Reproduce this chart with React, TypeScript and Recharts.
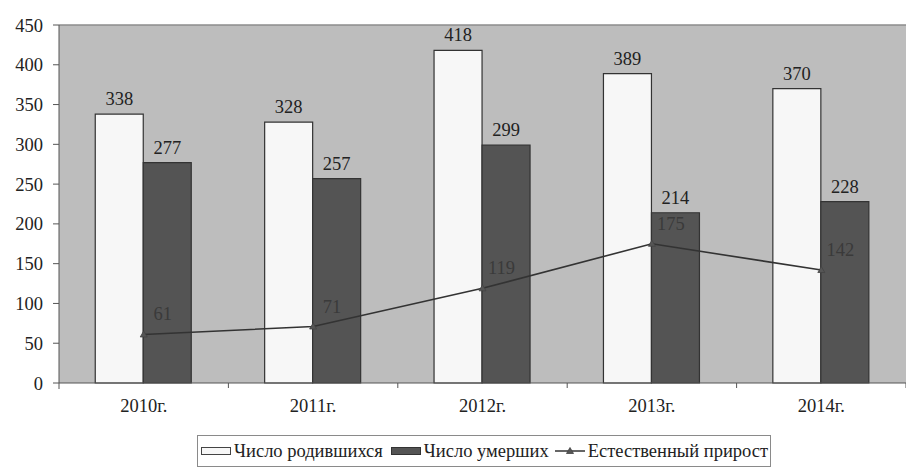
import React from 'react';
import { ComposedChart, Bar, Line, XAxis, YAxis, CartesianGrid, LabelList, ReferenceLine } from 'recharts';

const categories = ['2010г.', '2011г.', '2012г.', '2013г.', '2014г.'];
const births = [338, 328, 418, 389, 370];
const deaths = [277, 257, 299, 214, 228];
const growth = [61, 71, 119, 175, 142];
const yTicks = [0, 50, 100, 150, 200, 250, 300, 350, 400, 450];
const seriesNames = ['Число родившихся', 'Число умерших', 'Естественный прирост'];

const data = categories.map((c, i) => ({ name: c, births: births[i], deaths: deaths[i], growth: growth[i] }));

const W = 906;
const H = 468;
const YW = 59;
const FONT = "Liberation Serif, Tinos, Times New Roman, DejaVu Serif, serif";
const FS = 18.5;
const BAND = (W - YW) / categories.length;

const XTick = (props: any) => {
  const { x, y, payload } = props;
  return (
    <g>
      <text x={x} y={y + 29} textAnchor="middle" style={{ fontFamily: FONT }} fontSize={FS} fill="#222">
        {payload.value}
      </text>
      <line x1={x + BAND / 2} x2={x + BAND / 2} y1={y} y2={y + 5} stroke="#555" strokeWidth={1} />
      {payload.index === 0 && <line x1={x - BAND / 2} x2={x - BAND / 2} y1={y} y2={y + 6} stroke="#555" strokeWidth={1} />}
    </g>
  );
};

const TriDot = (props: any) => {
  const { cx, cy } = props;
  if (cx == null || cy == null) return null;
  return <polygon points={`${cx},${cy - 3.5} ${cx - 3.5},${cy + 2.5} ${cx + 3.5},${cy + 2.5}`} fill="#555" stroke="#444" strokeWidth={0.8} />;
};

const GrowthLabel = (props: any) => {
  const { x, y, value } = props;
  return (
    <text x={x + 19} y={y - 14} textAnchor="middle" style={{ fontFamily: FONT }} fontSize={FS} fill="#3a3a3a">
      {value}
    </text>
  );
};

const legendStyle: React.CSSProperties = {
  position: 'absolute',
  left: 197,
  top: 435,
  width: 574,
  height: 32,
  border: '1px solid #8a8a8a',
  boxSizing: 'border-box',
  display: 'flex',
  alignItems: 'center',
  fontFamily: FONT,
  fontSize: FS,
  color: '#222',
  whiteSpace: 'nowrap',
  background: '#fff',
};

const sw = (bg: string, border: string, ml: number): React.CSSProperties => ({
  display: 'inline-block',
  flexShrink: 0,
  width: 30,
  height: 8,
  marginLeft: ml,
  border: `1px solid ${border}`,
  background: bg,
  boxSizing: 'border-box',
});

export default function App() {
  return (
    <div style={{ position: 'absolute', left: 0, top: 0, width: W, height: H, background: '#fff', overflow: 'hidden', fontFamily: FONT }}>
      <ComposedChart
        width={W}
        height={H}
        data={data}
        margin={{ top: 25, right: 0, left: 0, bottom: 0 }}
        barCategoryGap="21.4%"
        barGap={0}
        style={{ fontFamily: FONT }}
      >
        <CartesianGrid fill="#bdbdbd" horizontal={false} vertical={false} />
        <ReferenceLine y={450} stroke="#8c8c8c" strokeWidth={1.5} />
        <XAxis
          dataKey="name"
          height={85}
          tickSize={0}
          tickMargin={0}
          tickLine={false}
          axisLine={{ stroke: '#555' }}
          tick={<XTick />}
          interval={0}
        />
        <YAxis
          width={YW}
          domain={[0, 450]}
          ticks={yTicks}
          interval={0}
          tickSize={6}
          tickMargin={10}
          axisLine={{ stroke: '#555' }}
          tickLine={{ stroke: '#555' }}
          tick={{ style: { fontFamily: FONT }, fontSize: FS, fill: '#222' }}
        />
        <Bar dataKey="births" name={seriesNames[0]} fill="#f7f7f7" stroke="#333" strokeWidth={1.2} isAnimationActive={false}>
          <LabelList dataKey="births" position="top" offset={9} style={{ fontFamily: FONT, fontSize: FS, fill: '#222' }} />
        </Bar>
        <Bar dataKey="deaths" name={seriesNames[1]} fill="#545454" stroke="#333" strokeWidth={1.2} isAnimationActive={false}>
          <LabelList dataKey="deaths" position="top" offset={9} style={{ fontFamily: FONT, fontSize: FS, fill: '#222' }} />
        </Bar>
        <Line
          dataKey="growth"
          name={seriesNames[2]}
          type="linear"
          stroke="#333"
          strokeWidth={1.6}
          dot={<TriDot />}
          activeDot={false}
          isAnimationActive={false}
        >
          <LabelList dataKey="growth" content={<GrowthLabel />} />
        </Line>
      </ComposedChart>
      <div style={legendStyle}>
        <span style={sw('#f7f7f7', '#444', 3)} />
        <span style={{ marginLeft: 3 }}>{seriesNames[0]}</span>
        <span style={sw('#545454', '#333', 8)} />
        <span style={{ marginLeft: 3 }}>{seriesNames[1]}</span>
        <svg width={30} height={10} style={{ marginLeft: 6, flexShrink: 0 }}>
          <line x1={0} x2={30} y1={5} y2={5} stroke="#333" strokeWidth={1.5} />
          <polygon points="15,1.5 11.5,7.5 18.5,7.5" fill="#555" stroke="#444" strokeWidth={0.8} />
        </svg>
        <span style={{ marginLeft: 3 }}>{seriesNames[2]}</span>
      </div>
    </div>
  );
}
